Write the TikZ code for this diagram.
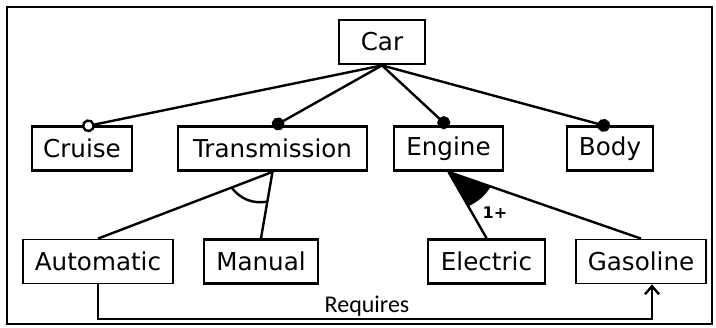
\documentclass[tikz,border=0pt]{standalone}
\usepackage{fontspec}
\setmainfont{DejaVu Sans}
\newfontfamily\calibrifont{Carlito}
\usetikzlibrary{arrows.meta,calc}

\begin{document}
\begin{tikzpicture}[x=0.5pt,y=-0.5pt,
  feat/.style={draw, line width=1.4pt, inner sep=0pt, minimum height=22pt, font=\fontsize{12.3}{14}\selectfont},
  link/.style={line width=1.2pt},
  mand/.style={link, -{Circle[length=6.5pt]}},
  opt/.style={link, -{Circle[open,length=6.5pt,fill=white]}}]

\useasboundingbox (0,0) rectangle (716,327);
\draw[line width=0.8pt] (7,7) rectangle (712,324);

% ---------- features ----------
\node[feat, minimum width=43pt] (car) at (382,42) {Car};

\node[feat, minimum width=50pt] (cruise) at (82,148.5) {Cruise};
\node[feat, minimum width=94.5pt] (trans) at (272.5,148.5) {Transmission};
\node[feat, minimum width=54.5pt] (engine) at (448.5,148.5) {Engine};
\node[feat, minimum width=43pt] (body) at (610,148.5) {Body};

\node[feat, line width=0.9pt, minimum width=75pt] (auto) at (98,261.5) {Automatic};
\node[feat, minimum width=57pt] (manual) at (261,261.5) {Manual};
\node[feat, minimum width=58.5pt] (electric) at (486.5,261.5) {Electric};
\node[feat, line width=0.9pt, minimum width=65pt] (gasoline) at (641,261.5) {Gasoline};

% ---------- Car ----------
\draw[opt] (car.south) -- ([yshift=-1pt]cruise.north);
\draw[mand] (car.south) -- ([yshift=-1pt]trans.north);
\draw[mand] (car.south) -- ([yshift=-1pt]engine.north);
\draw[mand] (car.south) -- ([yshift=-1pt]body.north);

% ---------- alternative ----------
\draw[link] (trans.south) -- (auto.north);
\draw[link] (trans.south) -- (manual.north);
\coordinate (alta) at ($(trans.south)!0.235!(auto.north)$);
\coordinate (altb) at ($(trans.south)!0.45!(manual.north)$);
\draw[link] (alta) to[bend right=30] (altb);

% ---------- or ----------
\draw[link] (engine.south) -- (electric.north);
\draw[link] (engine.south) -- (gasoline.north);
\coordinate (ora) at ($(engine.south)!0.52!(electric.north)$);
\coordinate (orb) at ($(engine.south)!0.22!(gasoline.north)$);
\fill (engine.south) -- (ora) to[bend right=15] (orb) -- cycle;
\node[font=\bfseries\fontsize{8}{9}\selectfont] (oneplus) at (495,213) {1+};

% ---------- requires ----------
\coordinate (reqmid) at (367,319);
\draw[link, -{Straight Barb[length=4pt,width=7pt]}] (auto.south) |- (reqmid) -| ($(gasoline.south)+(11,0)$);
\node[font=\calibrifont\fontsize{12}{14}\selectfont, anchor=base] (reqlabel) at (367,312) {Requires};

\end{tikzpicture}
\end{document}
